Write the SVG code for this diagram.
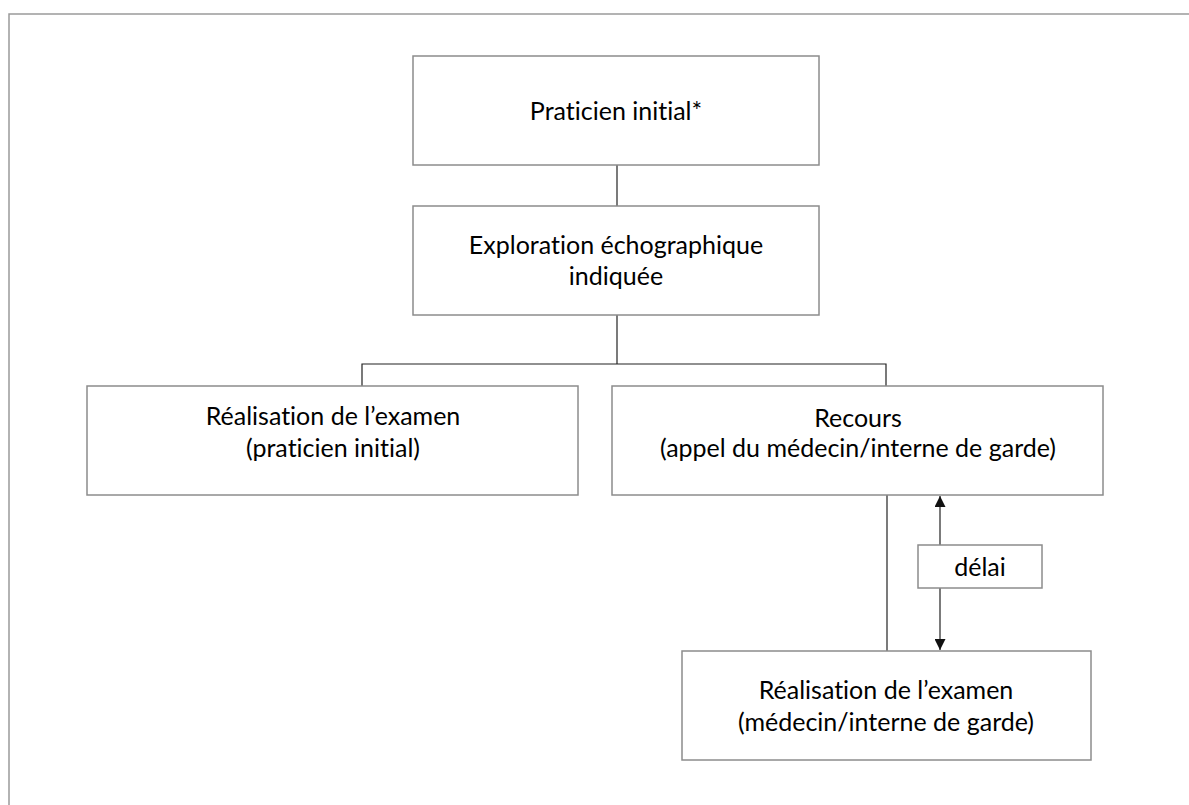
<svg xmlns="http://www.w3.org/2000/svg" width="1189" height="805" viewBox="0 0 1189 805">
<style>
.box{fill:#fff;stroke:#8c8c8c;stroke-width:1.5}
.frame{fill:none;stroke:#9a9a9a;stroke-width:1.5}
.con{fill:none;stroke:#222;stroke-width:1.2}
text{font-family:Lato,"Open Sans","Liberation Sans",sans-serif;font-size:25px;fill:#000;text-anchor:middle;font-variant-ligatures:none;font-feature-settings:"liga" 0}
</style>
<defs>
<marker id="ah" viewBox="0 0 10 10" refX="10" refY="5" markerWidth="11" markerHeight="11" markerUnits="userSpaceOnUse" orient="auto">
<path d="M0,0 L10,5 L0,10 z" fill="#111"/>
</marker>
</defs>
<rect width="1189" height="805" fill="#fff"/>
<path class="frame" d="M9,830 L9,14 L1200,14"/>
<g id="connectors">
<line class="con" x1="617" y1="165" x2="617" y2="206"/>
<line class="con" x1="617" y1="315" x2="617" y2="364"/>
<path class="con" d="M362,386 L362,364 L886,364 L886,386"/>
<line class="con" x1="887" y1="495" x2="887" y2="651"/>
<line class="con" x1="940" y1="545" x2="940" y2="496" marker-end="url(#ah)"/>
<line class="con" x1="940" y1="588" x2="940" y2="650" marker-end="url(#ah)"/>
</g>
<g id="n1">
<rect class="box" x="413" y="56" width="406" height="109"/>
<text x="616" y="120">Praticien initial*</text>
</g>
<g id="n2">
<rect class="box" x="413" y="206" width="406" height="109"/>
<text x="616" y="254">Exploration échographique</text>
<text x="616" y="285">indiquée</text>
</g>
<g id="n3">
<rect class="box" x="87" y="386" width="491" height="109"/>
<text x="333" y="425">Réalisation de l’examen</text>
<text x="333" y="457">(praticien initial)</text>
</g>
<g id="n4">
<rect class="box" x="612" y="386" width="491" height="109"/>
<text x="858" y="427">Recours</text>
<text x="858" y="457">(appel du médecin/interne de garde)</text>
</g>
<g id="n5">
<rect class="box" x="918" y="545" width="124" height="43"/>
<text x="980" y="576">délai</text>
</g>
<g id="n6">
<rect class="box" x="682" y="651" width="409" height="109"/>
<text x="886" y="699">Réalisation de l’examen</text>
<text x="886" y="731">(médecin/interne de garde)</text>
</g>
</svg>
